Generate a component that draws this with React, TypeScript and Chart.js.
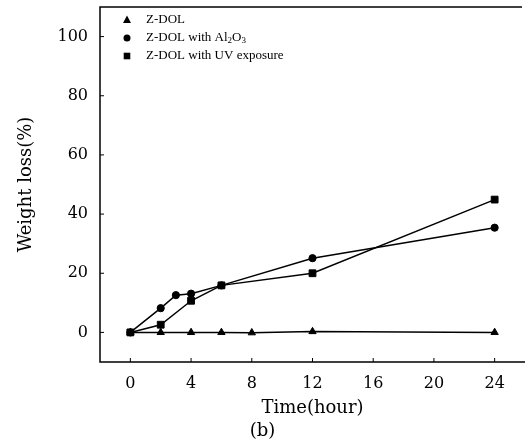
import React, { useEffect, useRef } from 'react';
import { Chart, registerables } from 'chart.js';

Chart.register(...registerables);

const seriesNames = ['Z-DOL', 'Z-DOL with Al', 'Z-DOL with UV exposure'];
const zdolTime = [0, 2, 4, 6, 8, 12, 24];
const zdolLoss = [0, 0, 0, 0, -0.1, 0.3, 0];
const al2o3Time = [0, 2, 3, 4, 6, 12, 24];
const al2o3Loss = [0, 8.2, 12.6, 13.1, 15.9, 25.1, 35.4];
const uvTime = [0, 2, 4, 6, 12, 24];
const uvLoss = [0, 2.6, 10.7, 15.9, 20.0, 44.9];
const xTicks = [0, 4, 8, 12, 16, 20, 24];
const yTicks = [0, 20, 40, 60, 80, 100];
const pointStyles = ['triangle', 'circle', 'rect'];

const SERIF = '"DejaVu Serif", "Liberation Serif", serif';
const LEGEND_FONT = '"Liberation Serif", "DejaVu Serif", serif';

function drawMarker(ctx: CanvasRenderingContext2D, style: string, x: number, y: number) {
  ctx.beginPath();
  if (style === 'triangle') {
    ctx.moveTo(x, y - 4.5);
    ctx.lineTo(x + 4, y + 3);
    ctx.lineTo(x - 4, y + 3);
    ctx.closePath();
  } else if (style === 'circle') {
    ctx.arc(x, y, 3.5, 0, Math.PI * 2);
  } else {
    ctx.rect(x - 3.3, y - 3.3, 6.6, 6.6);
  }
  ctx.fill();
}

const framePlugin = {
  id: 'frame',
  beforeDatasetsDraw(chart: any) {
    const { ctx, chartArea } = chart;
    const { left, right, top, bottom } = chartArea;
    const xs = chart.scales.x;
    const ys = chart.scales.y;
    ctx.save();
    ctx.strokeStyle = '#000';
    ctx.lineWidth = 1.5;
    ctx.beginPath();
    ctx.moveTo(right - 3, top);
    ctx.lineTo(left, top);
    ctx.lineTo(left, bottom);
    ctx.lineTo(right, bottom);
    ctx.stroke();
    ctx.lineWidth = 1;
    ctx.beginPath();
    xTicks.forEach((v) => {
      const px = xs.getPixelForValue(v);
      ctx.moveTo(px, bottom);
      ctx.lineTo(px, bottom - 4);
    });
    yTicks.forEach((v) => {
      const py = ys.getPixelForValue(v);
      ctx.moveTo(left, py);
      ctx.lineTo(left + 4, py);
    });
    ctx.stroke();
    ctx.restore();
  },
};

const legendPlugin = {
  id: 'innerLegend',
  afterDraw(chart: any) {
    const { ctx } = chart;
    ctx.save();
    ctx.fillStyle = '#000';
    ctx.textBaseline = 'middle';
    const rows = [20, 38, 56];
    seriesNames.forEach((name, i) => {
      const y = rows[i];
      drawMarker(ctx, pointStyles[i], 127, y);
      ctx.font = '13px ' + LEGEND_FONT;
      ctx.fillText(name, 146, y);
      if (i === 1) {
        let x = 146 + ctx.measureText(name).width;
        ctx.font = '9px ' + LEGEND_FONT;
        ctx.fillText('2', x, y + 3);
        x += ctx.measureText('2').width;
        ctx.font = '13px ' + LEGEND_FONT;
        ctx.fillText('O', x, y);
        x += ctx.measureText('O').width;
        ctx.font = '9px ' + LEGEND_FONT;
        ctx.fillText('3', x, y + 3);
      }
    });
    ctx.restore();
  },
};

export default function App() {
  const ref = useRef<HTMLCanvasElement | null>(null);

  useEffect(() => {
    if (!ref.current) return;
    const mk = (xsArr: number[], ysArr: number[]) => xsArr.map((x, i) => ({ x, y: ysArr[i] }));
    const common = {
      borderColor: '#000',
      backgroundColor: '#000',
      pointBackgroundColor: '#000',
      pointBorderColor: '#000',
      borderWidth: 1.5,
      pointBorderWidth: 1,
      showLine: true,
      fill: false,
      tension: 0,
    };
    const chart = new Chart(ref.current, {
      type: 'scatter',
      data: {
        datasets: [
          { ...common, label: seriesNames[0], data: mk(zdolTime, zdolLoss), pointStyle: 'triangle', pointRadius: 4.2 },
          { ...common, label: seriesNames[1] + '2O3', data: mk(al2o3Time, al2o3Loss), pointStyle: 'circle', pointRadius: 3.6 },
          { ...common, label: seriesNames[2], data: mk(uvTime, uvLoss), pointStyle: 'rect', pointRadius: 4.8 },
        ],
      },
      options: {
        animation: false,
        responsive: true,
        maintainAspectRatio: false,
        layout: { autoPadding: false, padding: { top: 7, left: 0, right: 0, bottom: 0 } },
        plugins: {
          legend: { display: false },
          tooltip: { enabled: false },
          title: {
            display: true,
            text: '(b)',
            position: 'bottom',
            color: '#000',
            font: { family: SERIF, size: 18, weight: 'normal' },
            padding: { top: 0, bottom: 2 },
          },
        },
        scales: {
          x: {
            type: 'linear',
            min: -2,
            max: 26,
            afterBuildTicks: (s: any) => {
              s.ticks = xTicks.map((v) => ({ value: v }));
            },
            afterFit: (s: any) => {
              s.height = 58.4;
              s.paddingLeft = 0;
              s.paddingRight = 0;
              s.paddingTop = 0;
              s.paddingBottom = 0;
            },
            grid: { display: false },
            border: { display: false },
            ticks: { color: '#000', font: { family: SERIF, size: 16 }, padding: 4, maxRotation: 0 },
            title: {
              display: true,
              text: 'Time(hour)',
              color: '#000',
              font: { family: SERIF, size: 18 },
              padding: { top: 0, bottom: 1.6 },
            },
          },
          y: {
            type: 'linear',
            min: -10,
            max: 110,
            afterBuildTicks: (s: any) => {
              s.ticks = yTicks.map((v) => ({ value: v }));
            },
            afterFit: (s: any) => {
              s.width = 100;
              s.paddingTop = 0;
              s.paddingBottom = 0;
              s.paddingLeft = 0;
              s.paddingRight = 0;
            },
            grid: { display: false },
            border: { display: false },
            ticks: { color: '#000', font: { family: SERIF, size: 16 }, padding: 4 },
            title: {
              display: true,
              text: 'Weight loss(%)',
              color: '#000',
              font: { family: SERIF, size: 18 },
              padding: { top: 16, bottom: 0 },
            },
          },
        },
      },
      plugins: [framePlugin, legendPlugin],
    } as any);
    return () => chart.destroy();
  }, []);

  return (
    <div style={{ position: 'fixed', left: 0, top: 0, width: 525, height: 444, background: '#fff' }}>
      <canvas ref={ref} />
    </div>
  );
}
